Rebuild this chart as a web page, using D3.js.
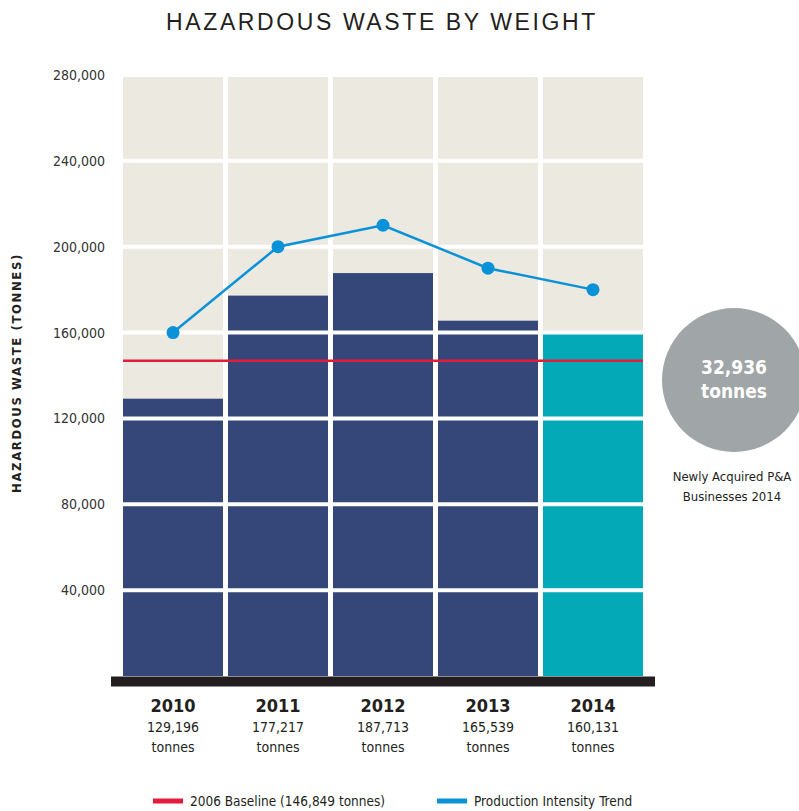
<!DOCTYPE html>
<html lang="en">
<head>
<meta charset="UTF-8">
<title>Hazardous Waste by Weight</title>
<style>
  body { margin: 0; background: #fff; }
  svg { display: block; }
  text { font-family: "Liberation Sans Narrow", "DejaVu Sans Condensed", "Roboto", sans-serif; fill: #231f20; }
</style>
</head>
<body>
<div id="chart"></div>
<script src="https://cdn.jsdelivr.net/npm/d3@7"></script>
<script>
// data
var years = ['2010', '2011', '2012', '2013', '2014'];
var waste = [129196, 177217, 187713, 165539, 160131];
var trend = [160000, 200000, 210000, 190000, 180000];
var baseline = 146849;
var yTicks = [40000, 80000, 120000, 160000, 200000, 240000, 280000];
var acquired = 32936;

var width = 799, height = 811;

var svg = d3.select('#chart').append('svg')
  .attr('width', width)
  .attr('height', height);

var x = d3.scaleBand()
  .domain(years)
  .range([123, 643])
  .paddingInner(5 / 105)
  .paddingOuter(0);

var y = d3.scaleLinear()
  .domain([0, 280000])
  .range([676, 75]);

// title
svg.append('text')
  .attr('x', 382).attr('y', 30)
  .attr('text-anchor', 'middle')
  .style('font-family', '"Liberation Sans", Arial, sans-serif')
  .style('font-size', '23px')
  .style('letter-spacing', '2.6px')
  .text('HAZARDOUS WASTE BY WEIGHT');

// column backgrounds
svg.selectAll('.bg').data(years).enter().append('rect')
  .attr('x', d => x(d))
  .attr('y', y(280000))
  .attr('width', x.bandwidth())
  .attr('height', y(0) - y(280000))
  .attr('fill', '#ece9e1');

// bars
svg.selectAll('.bar').data(years).enter().append('rect')
  .attr('x', d => x(d))
  .attr('y', (d, i) => y(waste[i]))
  .attr('width', x.bandwidth())
  .attr('height', (d, i) => y(0) - y(waste[i]))
  .attr('fill', (d, i) => i === years.length - 1 ? '#03a9b6' : '#354678');

// white gridlines
svg.selectAll('.grid').data(yTicks).enter().append('line')
  .attr('x1', 120).attr('x2', 646)
  .attr('y1', d => y(d)).attr('y2', d => y(d))
  .attr('stroke', '#fff')
  .attr('stroke-width', 4);

// tick labels
svg.selectAll('.tick').data(yTicks).enter().append('text')
  .attr('x', 105)
  .attr('y', d => y(d) + 5)
  .attr('text-anchor', 'end')
  .style('font-size', '14px')
  .style('fill', '#333')
  .text(d => d3.format(',')(d));

// y label
svg.append('text')
  .attr('transform', 'translate(21,373) rotate(-90)')
  .attr('text-anchor', 'middle')
  .style('font-size', '13px')
  .style('font-weight', 'bold')
  .style('letter-spacing', '1.6px')
  .text('HAZARDOUS WASTE (TONNES)');

// baseline
svg.append('line')
  .attr('x1', 123).attr('x2', 643)
  .attr('y1', y(baseline)).attr('y2', y(baseline))
  .attr('stroke', '#e31b3c')
  .attr('stroke-width', 2.5);

// trend line
var line = d3.line()
  .x((d, i) => x(years[i]) + x.bandwidth() / 2)
  .y(d => y(d));

svg.append('path')
  .datum(trend)
  .attr('d', line)
  .attr('fill', 'none')
  .attr('stroke', '#0992d8')
  .attr('stroke-width', 2.5);

svg.selectAll('.dot').data(trend).enter().append('circle')
  .attr('cx', (d, i) => x(years[i]) + x.bandwidth() / 2)
  .attr('cy', d => y(d))
  .attr('r', 6.5)
  .attr('fill', '#0992d8');

// base bar
svg.append('rect')
  .attr('x', 111).attr('y', 676.5)
  .attr('width', 544).attr('height', 10)
  .attr('fill', '#231f20');

// category labels
var cat = svg.selectAll('.cat').data(years).enter().append('g')
  .attr('transform', d => 'translate(' + (x(d) + x.bandwidth() / 2) + ',0)');

cat.append('text')
  .attr('y', 712)
  .attr('text-anchor', 'middle')
  .style('font-size', '18px')
  .style('font-weight', 'bold')
  .text(d => d);

cat.append('text')
  .attr('y', 732)
  .attr('text-anchor', 'middle')
  .style('font-size', '14px')
  .text((d, i) => d3.format(',')(waste[i]));

cat.append('text')
  .attr('y', 752)
  .attr('text-anchor', 'middle')
  .style('font-size', '14px')
  .text('tonnes');

// acquired businesses bubble
svg.append('circle')
  .attr('cx', 734).attr('cy', 380).attr('r', 72)
  .attr('fill', '#a0a5a8');

svg.append('text')
  .attr('x', 734).attr('y', 374)
  .attr('text-anchor', 'middle')
  .style('font-size', '19px')
  .style('font-weight', 'bold')
  .style('fill', '#fff')
  .text(d3.format(',')(acquired));

svg.append('text')
  .attr('x', 734).attr('y', 398)
  .attr('text-anchor', 'middle')
  .style('font-size', '19px')
  .style('font-weight', 'bold')
  .style('fill', '#fff')
  .text('tonnes');

svg.append('text')
  .attr('x', 732).attr('y', 481)
  .attr('text-anchor', 'middle')
  .style('font-size', '13px')
  .text('Newly Acquired P&A');

svg.append('text')
  .attr('x', 732).attr('y', 501)
  .attr('text-anchor', 'middle')
  .style('font-size', '13px')
  .text('Businesses 2014');

// legend
var legend = [
  { label: '2006 Baseline (146,849 tonnes)', color: '#e31b3c', x: 153 },
  { label: 'Production Intensity Trend', color: '#0992d8', x: 437 }
];

var lg = svg.selectAll('.legend').data(legend).enter().append('g')
  .attr('transform', d => 'translate(' + d.x + ',801)');

lg.append('rect')
  .attr('x', 0).attr('y', -2.5)
  .attr('width', 30).attr('height', 5)
  .attr('fill', d => d.color);

lg.append('text')
  .attr('x', 37).attr('y', 5)
  .style('font-size', '13.5px')
  .text(d => d.label);
</script>
</body>
</html>
